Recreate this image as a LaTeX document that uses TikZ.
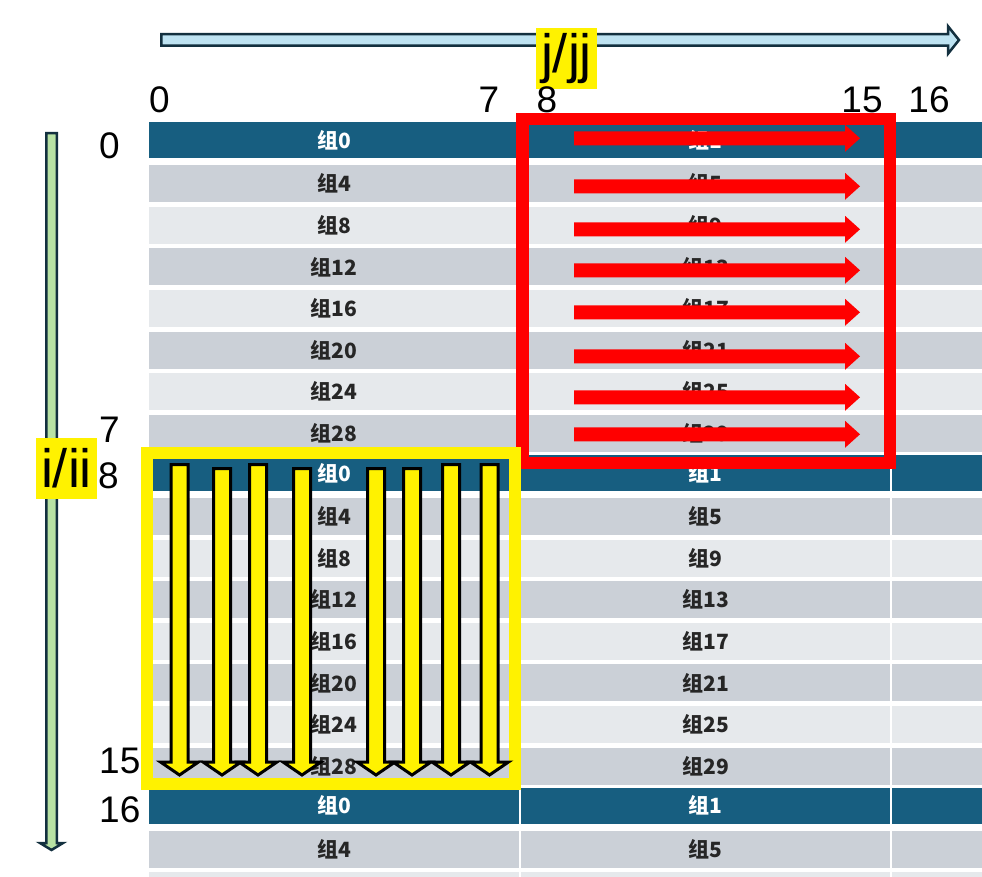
\documentclass[tikz,border=0pt]{standalone}
\usepackage{fontspec}
\setmainfont{Liberation Sans}
\newfontfamily\cjk{Noto Sans CJK SC}

\definecolor{intest}{HTML}{175E80}
\definecolor{grigio}{HTML}{CBD0D7}
\definecolor{chiaro}{HTML}{E6E9EC}
\definecolor{azzurro}{HTML}{BEE3F2}
\definecolor{verdino}{HTML}{B8E2A4}
\definecolor{bordoscuro}{HTML}{13303F}

\begin{document}
\begin{tikzpicture}[
    x=1pt, y=-1pt,
    cella/.style={inner sep=0pt, font=\cjk\bfseries\fontsize{21}{21}\selectfont},
    numero/.style={inner sep=0pt, font=\fontsize{37}{37}\selectfont},
    etichetta/.style={fill=yellow, inner sep=0pt, minimum width=61pt,
                      minimum height=61pt, font=\fontsize{54}{54}\selectfont},
    asse/.style={draw=bordoscuro, line width=2.5pt},
    cornicerossa/.style={draw=red, line width=12.5pt},
    cornicegialla/.style={draw=yellow, line width=12pt},
    frossa/.style={fill=red},
    fgialla/.style={draw=black, fill=yellow, line width=3pt}]

  \useasboundingbox (0,0) rectangle (982,877);
  \clip (0,0) rectangle (982,877);

  % ---- la tabella dei gruppi -------------------------------------------------
  \foreach \r in {0,...,18} {
    \pgfmathtruncatemacro\m{mod(\r,8)}
    \pgfmathtruncatemacro\na{4*\m}
    \pgfmathtruncatemacro\nb{4*\m+1}
    \pgfmathsetmacro\t{121+41.6*\r}
    \ifnum\m=0
      \def\colore{intest}\def\testo{white}\def\alt{36pt}\def\cy{19}
    \else\ifodd\m
      \def\colore{grigio}\def\testo{black!85}\def\alt{37pt}\def\cy{21}
    \else
      \def\colore{chiaro}\def\testo{black!85}\def\alt{37pt}\def\cy{21}
    \fi\fi
    \ifnum\r<18
      \node[cella, fill=\colore, text=\testo, minimum width=370pt, minimum height=\alt]
        (g-\r-0) at (334,\t+\cy) {组\na};
      \node[cella, fill=\colore, text=\testo, minimum width=369pt, minimum height=\alt]
        (g-\r-1) at (705.5,\t+\cy) {组\nb};
    \else
      \node[cella, fill=\colore, minimum width=370pt, minimum height=\alt]
        (g-\r-0) at (334,\t+\cy) {};
      \node[cella, fill=\colore, minimum width=369pt, minimum height=\alt]
        (g-\r-1) at (705.5,\t+\cy) {};
    \fi
    \node[cella, fill=\colore, minimum width=216pt, minimum height=\alt]
      (g-\r-2) at (1000,\t+\cy) {};
  }

  % ---- blocco rosso: lettura per righe ---------------------------------------
  \draw[cornicerossa] (522.25,119.25) rectangle (889.75,462.75);
  \foreach \y in {138.3,186.3,229.3,270.3,312.3,356.3,397.3,434.3}
    \fill[frossa] (574,\y-7) -- (845,\y-7) -- (845,\y-13.5) -- (860,\y)
                  -- (845,\y+13.5) -- (845,\y+7) -- (574,\y+7) -- cycle;

  % ---- blocco giallo: lettura per colonne ------------------------------------
  \draw[cornicegialla] (147,453) rectangle (515,784);
  \foreach \x/\ya in {179.5/464.5, 222/468.5, 258/464.5, 302/468.5,
                      376/468.5, 412/468.5, 451/464.5, 489.5/464.5}
    \draw[fgialla] (\x-8.5,\ya) -- (\x+8.5,\ya) -- (\x+8.5,762) -- (\x+19,762)
                   -- (\x,775) -- (\x-19,762) -- (\x-8.5,762) -- cycle;

  % ---- gli assi --------------------------------------------------------------
  \filldraw[asse, fill=azzurro] (161.25,34.25) -- (948,34.25) -- (948,26.25)
    -- (959,40) -- (948,53.75) -- (948,45.75) -- (161.25,45.75) -- cycle;   % asse j
  \filldraw[asse, fill=verdino] (46.25,133.25) -- (56.75,133.25) -- (56.75,843)
    -- (63,843) -- (51.5,850) -- (40,843) -- (46.25,843) -- cycle;          % asse i

  \node[etichetta] (lj) at (566.5,58.5) {j/jj};
  \node[etichetta] (li) at (66.5,468.5) {i/ii};

  % ---- indici di colonna (sopra la tabella) ----------------------------------
  \node[numero, anchor=base] (c0)  at (159.5,113) {0};
  \node[numero, anchor=base] (c7)  at (489,113)   {7};
  \node[numero, anchor=base] (c8)  at (547,113)   {8};
  \node[numero, anchor=base] (c15) at (862,113)   {15};
  \node[numero, anchor=base] (c16) at (929,113)   {16};

  % ---- indici di riga (a sinistra della tabella) -----------------------------
  \node[numero, anchor=base west] (r0)  at (99,159) {0};
  \node[numero, anchor=base west] (r7)  at (99,442) {7};
  \node[numero, anchor=base west] (r8)  at (98,488) {8};
  \node[numero, anchor=base west] (r15) at (99,773) {15};
  \node[numero, anchor=base west] (r16) at (99,822) {16};

\end{tikzpicture}
\end{document}
